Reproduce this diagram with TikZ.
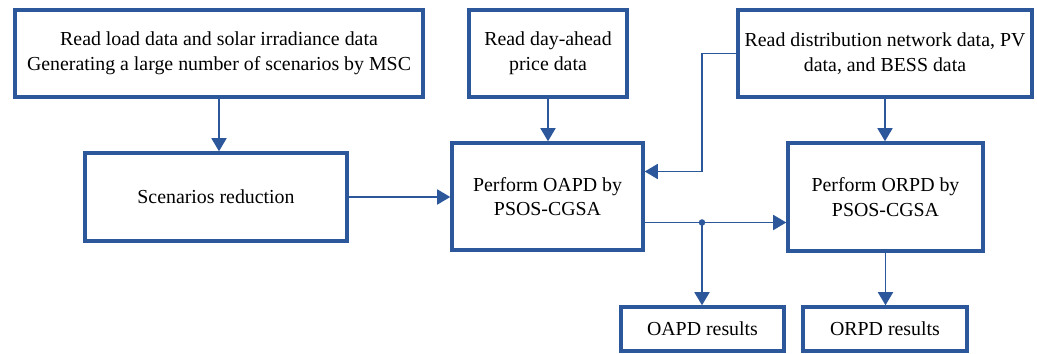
\documentclass[tikz,border=0pt]{standalone}
\usepackage{fontspec}
\setmainfont{Liberation Serif}[Ligatures=TeX]
\usetikzlibrary{arrows.meta}
\definecolor{flowblue}{RGB}{44,88,155}

\begin{document}
\begin{tikzpicture}[>={Triangle[length=2.6mm,width=3mm]},
    every node/.style={font=\rmfamily\fontsize{11.3}{14}\selectfont},
    block/.style={draw=flowblue,line width=2pt,align=center,inner sep=2pt},
    link/.style={->,draw=flowblue,line width=1pt}]
    \useasboundingbox (0,0) rectangle (20.74,-7.08);
    % Input boxes on the top row
    \node[block,minimum width=8.16cm,minimum height=1.74cm] (load) at (4.38,-1.07)
      {Read load data and solar irradiance data\\Generating a large number of scenarios by MSC};
    \node[block,minimum width=3.16cm,minimum height=1.74cm] (price) at (10.96,-1.07)
      {Read day-ahead\\price data};
    \node[block,minimum width=5.88cm,minimum height=1.74cm] (network) at (17.70,-1.07)
      {Read distribution network data, PV\\data, and BESS data};
    % Processing boxes
    \node[block,minimum width=5.24cm,minimum height=1.76cm] (reduce) at (4.32,-3.94)
      {Scenarios reduction};
    \node[block,minimum width=3.82cm,minimum height=2.14cm] (oapd) at (10.95,-3.93)
      {Perform OAPD by\\PSOS-CGSA};
    \node[block,minimum width=3.90cm,minimum height=2.16cm] (orpd) at (17.71,-3.94)
      {Perform ORPD by\\PSOS-CGSA};
    % Result boxes
    \node[block,minimum width=3.26cm,minimum height=0.88cm] (oapdres) at (14.05,-6.58)
      {OAPD results};
    \node[block,minimum width=3.28cm,minimum height=0.88cm] (orpdres) at (17.70,-6.58)
      {ORPD results};
    % Straight downward arrows
    \foreach \from/\to in {load/reduce, price/oapd, network/orpd, orpd/orpdres}
      \draw[link] (\from.south) -- (\from.south |- \to.north);
    \draw[link] (reduce.east) -- (reduce.east -| oapd.west);
    % Network data also feeds the OAPD step
    \coordinate (bend) at (14.04,-1.07);
    \draw[link] (network.west) -- (bend) |- ([yshift=0.5cm]oapd.east);
    % OAPD output splits to ORPD and results
    \coordinate (split) at ([yshift=-0.52cm]oapd.east -| bend);
    \draw[link] ([yshift=-0.52cm]oapd.east) -- ([yshift=-0.52cm]oapd.east -| orpd.west);
    \draw[link] (split) -- (split |- oapdres.north);
    \fill[flowblue] (split) circle (0.065);
  \end{tikzpicture}
\end{document}
